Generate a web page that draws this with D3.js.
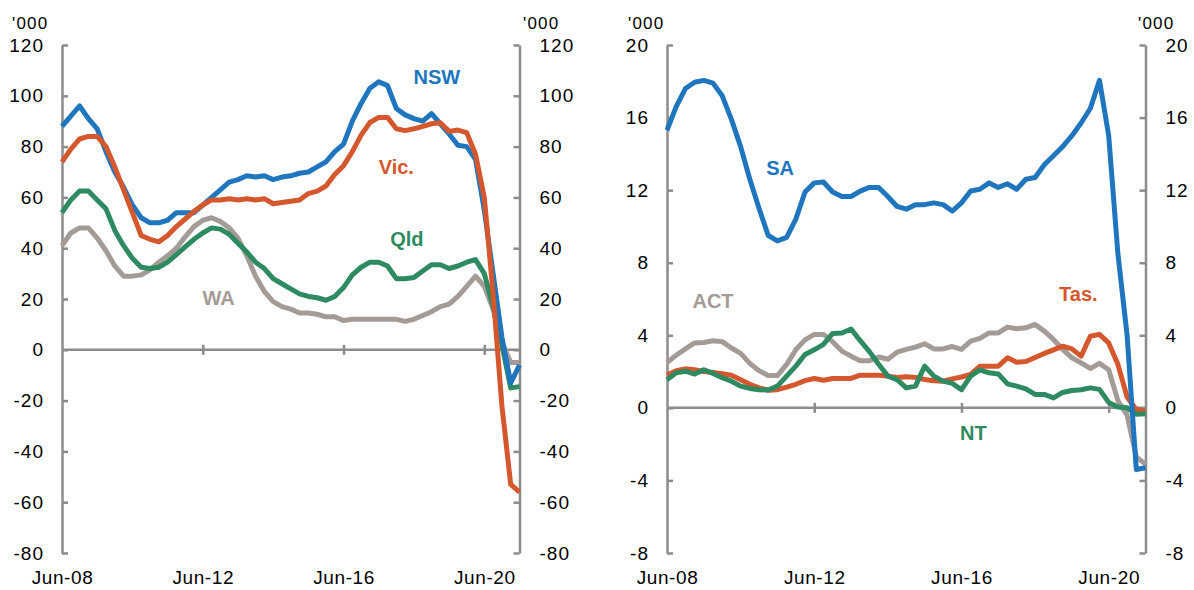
<!DOCTYPE html>
<html>
<head>
<meta charset="utf-8">
<script src="https://cdn.jsdelivr.net/npm/d3@7/dist/d3.min.js"></script>
<style>
  html, body { margin: 0; padding: 0; background: #fff; }
  svg { display: block; }
  text { font-family: "Liberation Sans", Arial, sans-serif; }
</style>
</head>
<body>
<svg id="chart" width="1194" height="590"></svg>
<script>
// ---- Data (quarterly, Jun-08 .. Jun-21), '000 ----
const xTickIndex = [0, 16, 32, 48];
const xTickLabels = ["Jun-08", "Jun-12", "Jun-16", "Jun-20"];
const leftTicks = [-80, -60, -40, -20, 0, 20, 40, 60, 80, 100, 120];
const rightTicks = [-8, -4, 0, 4, 8, 12, 16, 20];

const nsw = [88,92,96,91,87,78,70,64,57,52,50,50,51,54,54,54,57,60,63,66,67,68.5,68,68.5,67,68,68.5,69.5,70,72,74,78,81,90,97,103,105.5,104,95,92.5,91,90,93,89,85,80.5,80,75,55,30,5,-13,-6];
const vic = [74,79,83,84,84,80,72,63,54,45,43.5,42.5,45,48.5,51.5,54.5,57,59,59,59.5,59,59.5,59,59.5,57.5,58,58.5,59,61.5,62.5,64.5,69,72.5,78,84.5,89.5,91.5,91.5,87,86.3,87,88,89,89.4,86,86.5,85.5,77,60,22,-22,-53,-56];
const qld = [54,59,62.5,62.5,59,55.5,47,41,36,32.5,32,32.5,34.5,37.5,40.5,43.5,46,48,47.5,45.5,42,38.5,34.5,32,28,26,24,22,21,20.5,19.5,21,24.5,29.5,32.5,34.5,34.5,33,28,28,28.5,31,33.5,33.5,32,33,34.5,35.5,30,17,2,-15,-14.5];
const wa  = [41,46,48,48,44,39,33,29,29,29.5,31.5,34.5,37,40,44.5,48.5,51,52,50.5,48,44,37,29,23,19,17,16,14.5,14.5,14,13,13,11.5,12,12,12,12,12,12,11.2,12,13.5,15,17,18,21,25,29,25,16,3,-5,-5];

const sa  = [15.3,16.6,17.6,17.95,18.05,17.9,17.2,15.9,14.4,12.6,11,9.5,9.2,9.4,10.4,11.9,12.4,12.45,11.9,11.65,11.65,11.95,12.15,12.15,11.65,11.1,10.95,11.2,11.2,11.3,11.2,10.85,11.3,11.95,12.05,12.4,12.15,12.35,12.05,12.6,12.7,13.4,13.9,14.4,15,15.7,16.5,18.05,15,8.5,4,-3.4,-3.3];
const act = [2.5,2.9,3.25,3.58,3.6,3.7,3.65,3.3,3.0,2.45,2.05,1.78,1.78,2.4,3.2,3.75,4.05,4.05,3.65,3.13,2.85,2.6,2.6,2.8,2.68,3.07,3.22,3.35,3.53,3.25,3.25,3.38,3.22,3.68,3.83,4.13,4.13,4.45,4.36,4.41,4.6,4.23,3.77,3.22,2.76,2.48,2.17,2.45,2.1,0.4,-0.4,-2.7,-3.1];
const tas = [1.8,2.05,2.15,2.1,2.0,1.95,1.88,1.8,1.55,1.3,1.1,0.97,1.0,1.14,1.3,1.5,1.62,1.52,1.62,1.62,1.62,1.8,1.8,1.8,1.75,1.67,1.72,1.68,1.56,1.5,1.47,1.6,1.7,1.84,2.3,2.3,2.3,2.76,2.52,2.55,2.78,3.0,3.2,3.4,3.25,2.85,3.95,4.05,3.58,2.4,0.6,-0.1,-0.18];
const nt  = [1.55,1.93,2.02,1.86,2.1,1.9,1.66,1.47,1.2,1.07,1.0,0.98,1.2,1.75,2.3,2.94,3.2,3.5,4.1,4.13,4.35,3.7,3.1,2.4,1.75,1.56,1.1,1.2,2.3,1.75,1.47,1.35,1.0,1.75,2.1,1.93,1.87,1.32,1.2,1.05,0.74,0.74,0.55,0.85,0.96,1.0,1.1,1.02,0.3,0.05,0.0,-0.35,-0.33];

const COLORS = { blue: "#2076BE", orange: "#D5572D", green: "#2E8A60", gray: "#A49B97" };

const panels = [
  {
    x0: 62, x1: 519.5, domainY: [-80, 120], ticks: leftTicks,
    unitLeftX: 12, unitRightX: 523,
    series: [
      { name: "WA",   values: wa,  color: COLORS.gray,   lx: 17.8, ly: 20.4 },
      { name: "Qld",  values: qld, color: COLORS.green,  lx: 39.2, ly: 43.6 },
      { name: "NSW",  values: nsw, color: COLORS.blue,   lx: 42.6, ly: 107.5 },
      { name: "Vic.", values: vic, color: COLORS.orange, lx: 38.0, ly: 72.1 }
    ]
  },
  {
    x0: 667, x1: 1145.5, domainY: [-8, 20], ticks: rightTicks,
    unitLeftX: 628, unitRightX: 1138,
    series: [
      { name: "ACT",  values: act, color: COLORS.gray,   lx: 5.0,  ly: 5.88 },
      { name: "Tas.", values: tas, color: COLORS.orange, lx: 44.7, ly: 6.27 },
      { name: "NT",   values: nt,  color: COLORS.green,  lx: 33.3, ly: -1.38 },
      { name: "SA",   values: sa,  color: COLORS.blue,   lx: 12.3, ly: 13.23 }
    ]
  }
];

const svg = d3.select("#chart");
const yTop = 45, yBot = 553;
const axisColor = "#8C8C8C";

panels.forEach(p => {
  const x = d3.scaleLinear().domain([0, 52]).range([p.x0, p.x1]);
  const y = d3.scaleLinear().domain(p.domainY).range([yBot, yTop]);
  const g = svg.append("g");

  // zero line with crossing ticks
  const zero = g.append("g").attr("transform", `translate(0,${y(0)})`)
    .call(d3.axisBottom(x).tickValues(xTickIndex.slice(1)).tickSize(5).tickSizeOuter(0).tickFormat(""));
  zero.selectAll(".tick line").attr("y1", -5).attr("y2", 5);
  zero.select(".domain").attr("d", `M${p.x0},0H${p.x1}`);
  zero.selectAll("path, line").attr("stroke", axisColor).attr("stroke-width", 2.5);

  // x labels at bottom
  const xl = g.append("g").attr("transform", `translate(0,${yBot})`)
    .call(d3.axisBottom(x).tickValues(xTickIndex).tickSize(0).tickPadding(17.5)
      .tickFormat((d, i) => xTickLabels[i]));
  xl.select(".domain").remove();
  xl.selectAll("text").attr("font-size", 19).attr("fill", "#000")
    .attr("font-family", "Liberation Sans, Arial, sans-serif").attr("letter-spacing", 0.6);

  // left & right axes
  const fmt = d => String(d);
  const la = g.append("g").attr("transform", `translate(${p.x0},0)`)
    .call(d3.axisLeft(y).tickValues(p.ticks).tickSize(-6).tickSizeOuter(0).tickPadding(18).tickFormat(fmt));
  const ra = g.append("g").attr("transform", `translate(${p.x1},0)`)
    .call(d3.axisRight(y).tickValues(p.ticks).tickSize(-6).tickSizeOuter(0).tickPadding(20).tickFormat(fmt));
  [la, ra].forEach(a => {
    a.selectAll("path, line").attr("stroke", axisColor).attr("stroke-width", 2.5);
    a.selectAll("text").attr("font-size", 19).attr("fill", "#000")
      .attr("font-family", "Liberation Sans, Arial, sans-serif").attr("letter-spacing", 1);
  });

  // unit labels
  g.append("text").attr("x", p.unitLeftX).attr("y", 29).attr("font-size", 17)
    .attr("letter-spacing", 1.2).text("'000");
  g.append("text").attr("x", p.unitRightX).attr("y", 29).attr("font-size", 17)
    .attr("letter-spacing", 1.2).text("'000");

  // lines
  const line = d3.line().x((d, i) => x(i)).y(d => y(d));
  p.series.forEach(s => {
    g.append("path").datum(s.values)
      .attr("d", line).attr("fill", "none")
      .attr("stroke", s.color).attr("stroke-width", 5)
      .attr("stroke-linejoin", "round").attr("stroke-linecap", "butt");
  });
  // series labels
  p.series.forEach(s => {
    g.append("text").attr("x", x(s.lx)).attr("y", y(s.ly))
      .attr("text-anchor", "middle").attr("dy", "0.36em")
      .attr("font-size", 20).attr("font-weight", "bold")
      .attr("fill", s.color).text(s.name);
  });
});
</script>
</body>
</html>
